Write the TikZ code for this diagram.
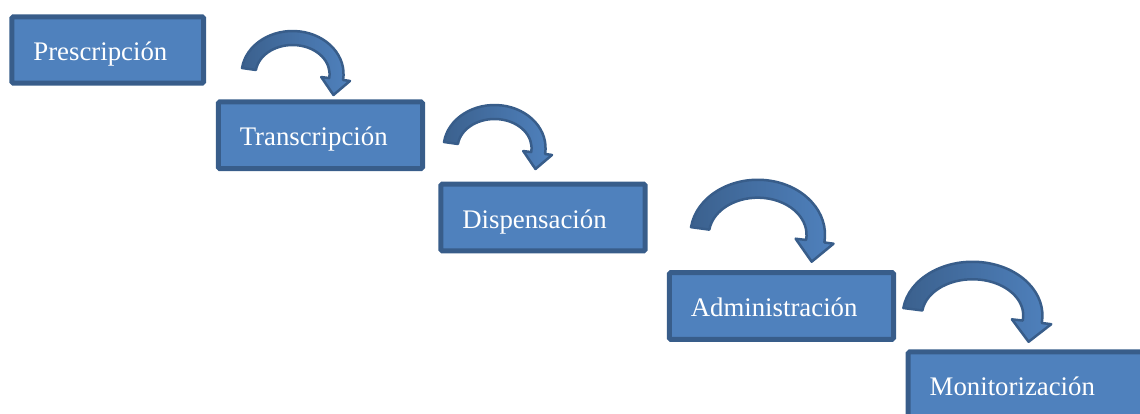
\documentclass[tikz,border=0pt]{standalone}
\usepackage{fontspec}
\setmainfont{Liberation Serif}
\usetikzlibrary{calc}

\definecolor{caja}{HTML}{4F81BD}
\definecolor{borde}{HTML}{385D8A}

\tikzset{
  etapa/.style={draw=borde, fill=caja, line width=5pt, rounded corners=1.5pt,
    text=white, align=left, inner xsep=21.5pt, inner ysep=0pt,
    text height=23pt, text depth=2pt,
    font=\fontsize{26.8}{30}\selectfont},
  giro/.pic={
    \path[left color=caja!75!black, right color=caja, draw=borde,
          line width=2.5pt, line join=round]
      (188:51 and 43) arc[start angle=188, end angle=368, x radius=51, y radius=43]
      -- (368:58 and 50) -- (40.9,21) -- (368:29 and 22) -- (368:37 and 29)
      arc[start angle=368, end angle=188, x radius=37, y radius=29] -- cycle;
  }
}

\begin{document}
\begin{tikzpicture}[x=1pt,y=-1pt]
  \useasboundingbox (0,0) rectangle (1140,413);
  \clip (0,0) rectangle (1140,413);

  % etapas
  \node[etapa, minimum width=191.7pt, minimum height=66.4pt, text width=148.7pt] (pres) at (107.7,50) {Prescripción};
  \node[etapa, minimum width=204.3pt, minimum height=66.7pt, text width=161.3pt] (trans) at (320.4,135.2) {Transcripción};
  \node[etapa, minimum width=204.4pt, minimum height=66.6pt, text width=161.4pt] (disp) at (543,217.5) {Dispensación};
  \node[etapa, minimum width=224.3pt, minimum height=66.7pt, text width=181.3pt] (admin) at (781.4,305.9) {Administración};
  \node[etapa, minimum width=240pt, minimum height=66.7pt, text width=197pt] (monit) at (1028.2,385.2) {Monitorización};

  % flechas curvas
  \pic at ([shift={(86.5,24)}]pres.east) {giro};
  \pic at ([shift={(69.5,12.8)}]trans.east) {giro};
  \pic[xscale=1.32, yscale=1.28] at ([shift={(110,17.3)}]disp.east) {giro};
  \pic[xscale=1.37, yscale=1.25] at ([shift={(76.5,9.6)}]admin.east) {giro};
\end{tikzpicture}
\end{document}
